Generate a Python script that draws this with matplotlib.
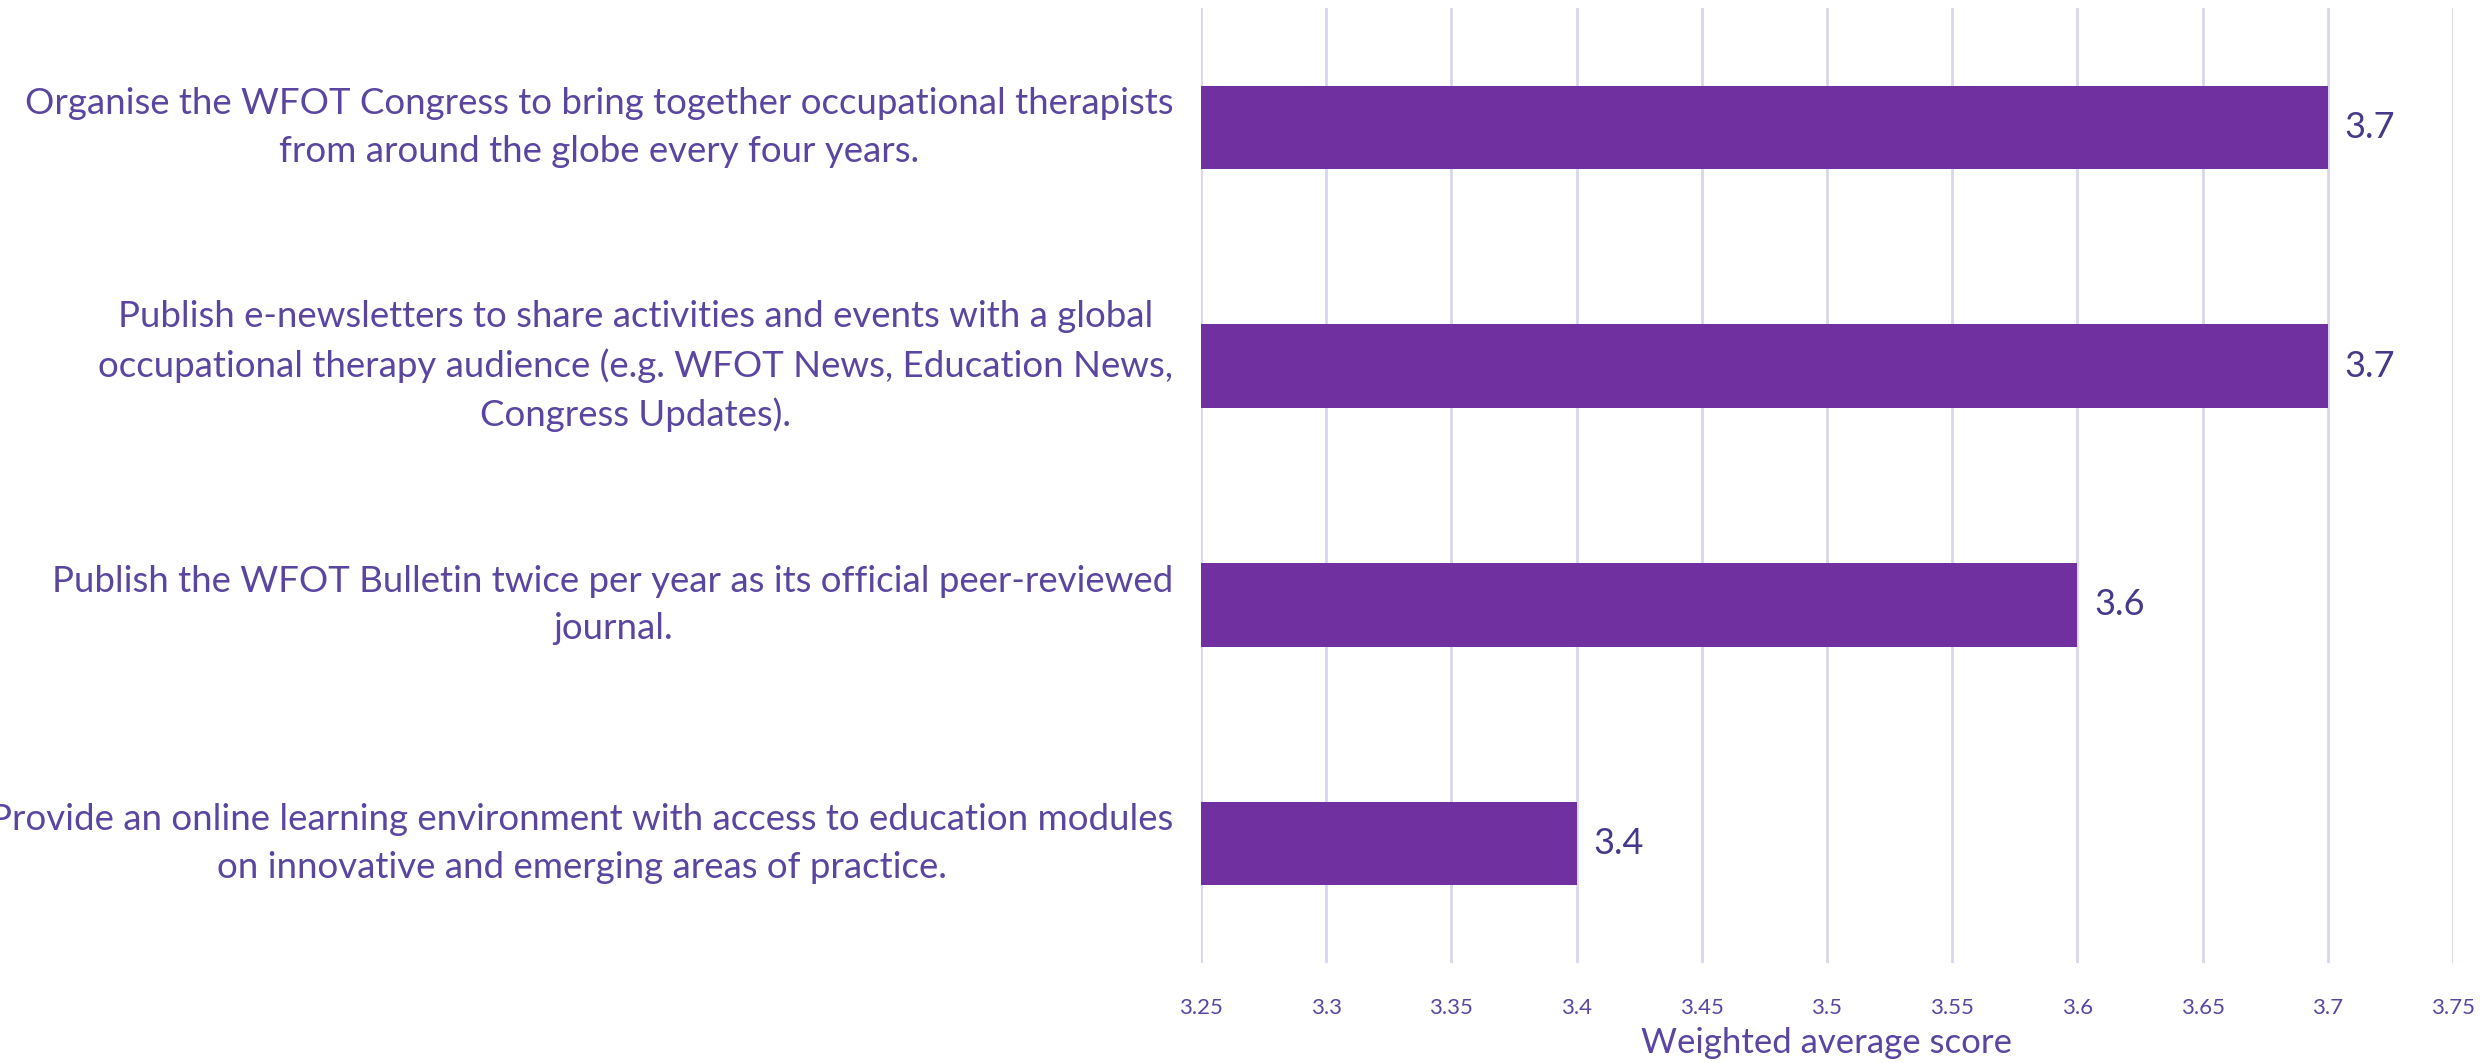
import matplotlib
matplotlib.use("Agg")
import matplotlib.pyplot as plt

# data (top to bottom)
activities = [
    "Organise the WFOT Congress to bring together occupational therapists\nfrom around the globe every four years.",
    "Publish e-newsletters to share activities and events with a global\noccupational therapy audience (e.g. WFOT News, Education News,\nCongress Updates).",
    "Publish the WFOT Bulletin twice per year as its official peer-reviewed\njournal.",
    "Provide an online learning environment with access to education modules\non innovative and emerging areas of practice.",
]
scores = [3.7, 3.7, 3.6, 3.4]
x_ticks = [3.25, 3.3, 3.35, 3.4, 3.45, 3.5, 3.55, 3.6, 3.65, 3.7, 3.75]
x_ticklabels = ["3.25", "3.3", "3.35", "3.4", "3.45", "3.5", "3.55", "3.6", "3.65", "3.7", "3.75"]

bar_color = "#7030A0"
text_color = "#5A45A0"
value_color = "#47398A"
grid_color = "#D9D5EE"

plt.rcParams["font.family"] = ["Lato", "DejaVu Sans"]

fig = plt.figure(figsize=(24.83, 10.63), dpi=100)
ax = fig.add_axes((0.4837, 0.0941, 0.5042, 0.8984))

ypos = list(range(len(scores)))
base = 3.25
ax.barh(ypos, [s - base for s in scores], left=base, height=0.35, color=bar_color, zorder=3)

for y, s in zip(ypos, scores):
    ax.annotate(f"{s:.1f}", xy=(s, y), xytext=(12, 0), textcoords="offset points",
                ha="left", va="center", fontsize=26, color=value_color)

ax.set_xlim(3.25, 3.75)
ax.set_ylim(3.5, -0.5)
ax.set_xticks(x_ticks)
ax.set_xticklabels(x_ticklabels, fontsize=16, color=text_color)
ax.tick_params(axis="x", length=0, pad=25)
ax.set_yticks([])
ax.grid(axis="x", color=grid_color, linewidth=2, zorder=0)
for sp in ax.spines.values():
    sp.set_visible(False)

ax.set_xlabel("Weighted average score", fontsize=25, color=text_color, labelpad=7)

# category labels, centred block, right edge near the axis
for y, lab in zip(ypos, activities):
    ax.annotate(lab, xy=(3.25, y), xytext=(-20, 0), textcoords="offset points",
                ha="right", va="center", multialignment="center",
                fontsize=26.4, color=text_color, linespacing=1.53,
                annotation_clip=False)

fig.savefig("out.png", dpi=100)
